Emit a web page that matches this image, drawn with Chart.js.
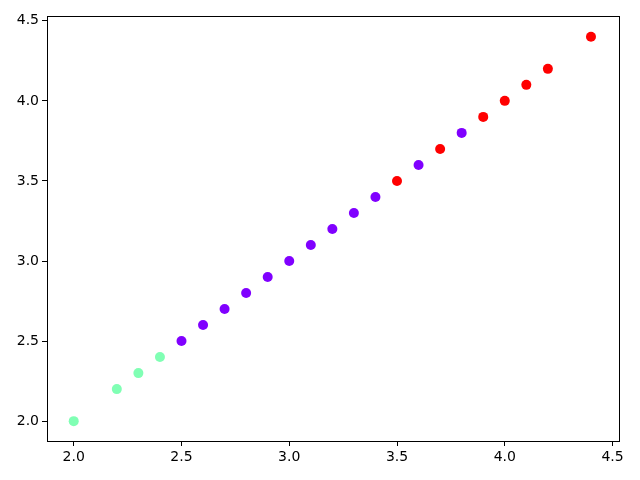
<!DOCTYPE html>
<html>
<head>
<meta charset="utf-8">
<script src="https://cdn.jsdelivr.net/npm/chart.js@4"></script>
<style>
  html, body { margin: 0; padding: 0; background: #fff; }
  #wrap { width: 640px; height: 480px; }
</style>
</head>
<body>
<div id="wrap"><canvas id="chart"></canvas></div>
<script>
// points sit on the diagonal, coloured by cluster label
const xValues = [2.0, 2.2, 2.3, 2.4, 2.5, 2.6, 2.7, 2.8, 2.9, 3.0, 3.1, 3.2, 3.3, 3.4, 3.5, 3.6, 3.7, 3.8, 3.9, 4.0, 4.1, 4.2, 4.4];
const yValues = [2.0, 2.2, 2.3, 2.4, 2.5, 2.6, 2.7, 2.8, 2.9, 3.0, 3.1, 3.2, 3.3, 3.4, 3.5, 3.6, 3.7, 3.8, 3.9, 4.0, 4.1, 4.2, 4.4];
const clusterLabels = [1, 1, 1, 1, 0, 0, 0, 0, 0, 0, 0, 0, 0, 0, 2, 0, 2, 0, 2, 2, 2, 2, 2];
const clusterColors = ['#8000ff', '#80ffb4', '#ff0000'];
const tickValues = [2.0, 2.5, 3.0, 3.5, 4.0, 4.5];

const points = xValues.map((x, i) => ({ x: x, y: yValues[i] }));
const pointColors = clusterLabels.map(c => clusterColors[c]);

// full black frame around the plot area
const frame = {
    id: 'frame',
    afterDraw(chart) {
        const { ctx, chartArea: a } = chart;
        ctx.save();
        ctx.strokeStyle = '#000';
        ctx.lineWidth = 1;
        ctx.strokeRect(Math.round(a.left) + 0.5, Math.round(a.top) + 0.5,
            Math.round(a.right - a.left), Math.round(a.bottom - a.top));
        ctx.restore();
    }
};

const axisCommon = {
    type: 'linear',
    min: 1.876,
    max: 4.53,
    afterBuildTicks: scale => {
        scale.ticks = tickValues.map(v => ({ value: v }));
    },
    ticks: {
        color: '#000',
        font: { family: 'DejaVu Sans', size: 14 },
        padding: 3,
        callback: v => Number(v).toFixed(1)
    },
    grid: {
        display: true,
        drawOnChartArea: false,
        drawTicks: true,
        tickLength: 5,
        tickColor: '#000'
    },
    border: { display: true, color: '#000', width: 1 }
};

new Chart(document.getElementById('chart').getContext('2d'), {
    type: 'scatter',
    data: {
        datasets: [{
            data: points,
            backgroundColor: pointColors,
            borderColor: pointColors,
            borderWidth: 0,
            pointRadius: 5,
            pointHoverRadius: 5
        }]
    },
    options: {
        responsive: true,
        maintainAspectRatio: false,
        animation: false,
        layout: { padding: { top: 16, right: 21, left: 0, bottom: 0 } },
        plugins: {
            legend: { display: false },
            tooltip: { enabled: false }
        },
        scales: {
            x: Object.assign({}, axisCommon, {
                afterFit: scale => { scale.height = 39; }
            }),
            y: Object.assign({}, axisCommon, {
                afterFit: scale => { scale.width = 47; }
            })
        }
    },
    plugins: [frame]
});
</script>
</body>
</html>
